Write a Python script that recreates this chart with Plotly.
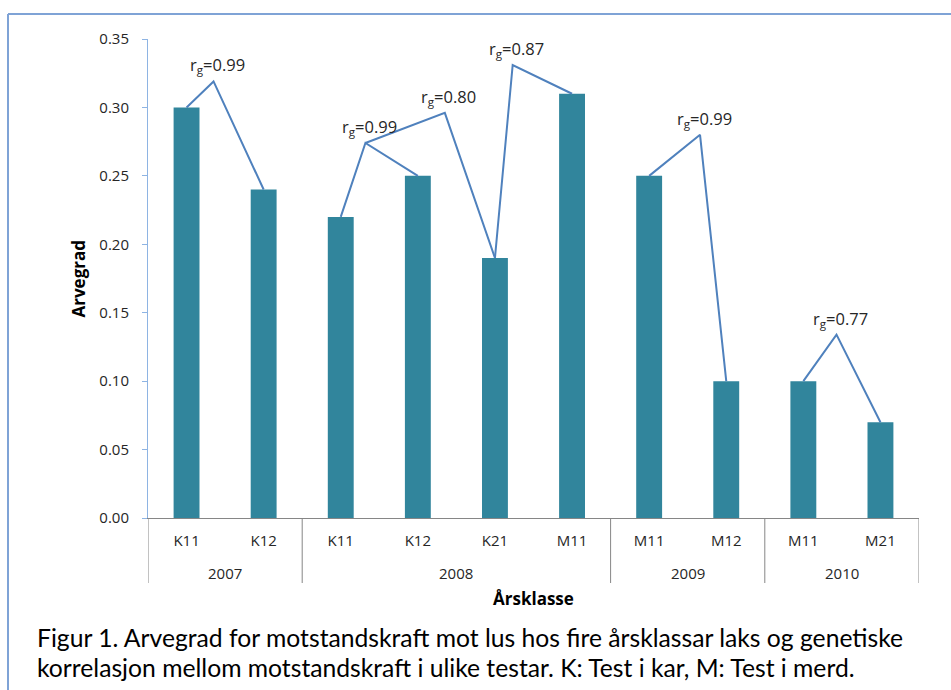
import plotly.graph_objects as go

# ---- data ----
years = ['2007', '2007', '2008', '2008', '2008', '2008', '2009', '2009', '2010', '2010']
classes = ['K11', 'K12', 'K11', 'K12', 'K21', 'M11', 'M11', 'M12', 'M11', 'M21']
arvegrad = [0.30, 0.24, 0.22, 0.25, 0.19, 0.31, 0.25, 0.10, 0.10, 0.07]

# genetic correlations: label, junction point (category index, height)
rg_values = ['0.99', '0.99', '0.80', '0.87', '0.99', '0.77']
rg_peak_x = [0.35, 2.32, 3.35, 4.23, 6.66, 8.43]
rg_peak_y = [0.319, 0.274, 0.296, 0.331, 0.280, 0.134]
# start: bar index, or junction of another correlation; end: bar index
rg_start_bar = [0, 2, None, 4, 6, 8]
rg_start_peak = [None, None, 1, None, None, None]
rg_end_bar = [1, 3, 4, 5, 7, 9]

caption_lines = [
    'Figur 1. Arvegrad for motstandskraft mot lus hos fire årsklassar laks og genetiske',
    'korrelasjon mellom motstandskraft i ulike testar. K: Test i kar, M: Test i merd.',
]

# ---- layout geometry (pixels) ----
W, H = 951, 690
L, R, T, B = 148, 32, 39, 172
PW, PH = W - L - R, H - T - B


def px_x(x):
    return (x - L) / PW


def px_y(y):
    return (H - B - y) / PH


FONT = 'Open Sans, Lato, sans-serif'
BAR = '#31859C'
LINE = '#4F81BD'
TXT = '#262626'

idx = list(range(len(classes)))

fig = go.Figure()
fig.add_trace(go.Bar(
    x=idx, y=arvegrad, width=0.336,
    marker=dict(color=BAR, line=dict(width=0)),
    hovertext=[f'{y} {c}' for y, c in zip(years, classes)],
))

for i, val in enumerate(rg_values):
    if rg_start_bar[i] is not None:
        sx, sy = rg_start_bar[i], arvegrad[rg_start_bar[i]]
    else:
        p = rg_start_peak[i]
        sx, sy = rg_peak_x[p], rg_peak_y[p]
    ex, ey = rg_end_bar[i], arvegrad[rg_end_bar[i]]
    fig.add_trace(go.Scatter(
        x=[sx, rg_peak_x[i], ex], y=[sy, rg_peak_y[i], ey],
        mode='lines', line=dict(color=LINE, width=2), hoverinfo='skip',
    ))
    fig.add_annotation(
        x=rg_peak_x[i], y=rg_peak_y[i], xref='x', yref='y',
        text='r<sub>g</sub>=' + val, showarrow=False,
        xanchor='center', yanchor='bottom', yshift=2, xshift=4,
        font=dict(family=FONT, size=16.5, color=TXT),
    )

# year groups: labels and dividers
groups = []
for i, y in enumerate(years):
    if not groups or groups[-1][0] != y:
        groups.append([y, i, i])
    else:
        groups[-1][2] = i
bounds = sorted({g[1] - 0.5 for g in groups} | {g[2] + 0.5 for g in groups})
for bx in bounds:
    fig.add_shape(type='line', xref='x', yref='paper',
                  x0=bx, x1=bx, y0=0, y1=px_y(583),
                  line=dict(color='#868686', width=1))
for y, a, b in groups:
    fig.add_annotation(
        x=(a + b) / 2, y=px_y(573), xref='x', yref='paper', text=y,
        showarrow=False, xanchor='center', yanchor='middle',
        font=dict(family=FONT, size=15, color=TXT),
    )

fig.update_layout(
    width=W, height=H,
    margin=dict(l=L, r=R, t=T, b=B, pad=0),
    paper_bgcolor='white', plot_bgcolor='white',
    showlegend=False,
    font=dict(family=FONT, size=15, color=TXT),
    xaxis=dict(
        range=[-0.5, 9.5], tickmode='array', tickvals=idx, ticktext=classes,
        showline=True, linecolor='#868686', linewidth=1,
        ticks='', ticklabelstandoff=9, showgrid=False, zeroline=False,
        tickfont=dict(family=FONT, size=15, color=TXT),
    ),
    yaxis=dict(
        range=[0, 0.35], dtick=0.05, tickformat='.2f',
        showline=True, linecolor='#8EB4E3', linewidth=1,
        ticks='outside', ticklen=5, tickcolor='#8EB4E3',
        ticklabelstandoff=10,
        showgrid=False, zeroline=False,
        tickfont=dict(family=FONT, size=15, color=TXT),
    ),
)

# axis titles
fig.add_annotation(
    x=px_x(78), y=0.5, xref='paper', yref='paper', text='<b>Arvegrad</b>',
    textangle=-90, showarrow=False, xanchor='center', yanchor='middle',
    font=dict(family=FONT, size=17, color='black'),
)
fig.add_annotation(
    x=0.5, y=px_y(598), xref='paper', yref='paper', text='<b>Årsklasse</b>',
    showarrow=False, xanchor='center', yanchor='middle',
    font=dict(family=FONT, size=17, color='black'),
)

# caption
for k, line in enumerate(caption_lines):
    fig.add_annotation(
        x=px_x(35), y=px_y(637 + 30 * k), xref='paper', yref='paper',
        text=line, showarrow=False, xanchor='left', yanchor='middle',
        font=dict(family='Lato, sans-serif', size=24.7, color='black'),
    )

# frame
fig.add_shape(type='line', xref='paper', yref='paper',
              x0=px_x(8), y0=px_y(H), x1=px_x(8), y1=px_y(14),
              line=dict(color='#7FA3D6', width=2))
fig.add_shape(type='line', xref='paper', yref='paper',
              x0=px_x(8), y0=px_y(14), x1=px_x(W), y1=px_y(14),
              line=dict(color='#7FA3D6', width=2))

fig.write_html('out.html', config={'displayModeBar': False},
               post_script="document.body.style.margin='0';")
